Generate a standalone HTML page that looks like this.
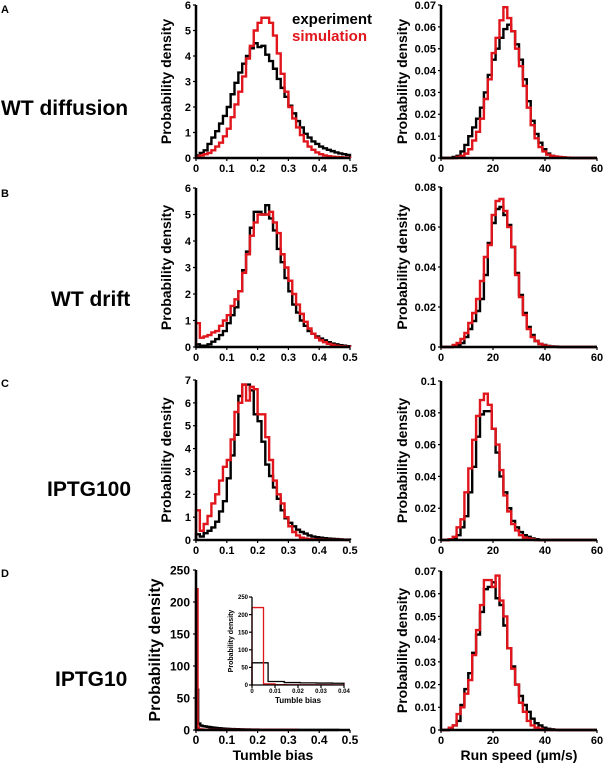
<!DOCTYPE html>
<html><head><meta charset="utf-8"><style>
html,body{margin:0;padding:0;background:#fff}
svg{display:block;font-family:"Liberation Sans",Arial,sans-serif}
</style></head><body>
<svg id="fig" width="605" height="764" viewBox="0 0 605 764" xmlns="http://www.w3.org/2000/svg">
<g font-weight="bold" font-size="11">
<text x="1" y="13">A</text>
<text x="1" y="197">B</text>
<text x="1" y="387">C</text>
<text x="1" y="577">D</text>
</g>
<g font-weight="bold" font-size="21">
<text x="1" y="115">WT diffusion</text>
<text x="51" y="306">WT drift</text>
<text x="47" y="496">IPTG100</text>
<text x="55" y="686">IPTG10</text>
</g>
<g font-weight="bold" font-size="15">
<text x="292" y="24" fill="#000">experiment</text>
<text x="292" y="41" fill="#e0161c">simulation</text>
</g>
<text x="273" y="760" text-anchor="middle" font-size="14" font-weight="bold">Tumble bias</text>
<text x="519" y="760" text-anchor="middle" font-size="14" font-weight="bold">Run speed (µm/s)</text>
</svg>
<script>
// ---- data (40 bins; tumble bias bin width 0.0125, run speed bin width 1.5) ----
const biasTicks = ["0","0.1","0.2","0.3","0.4","0.5"];
const speedTicks = ["0","20","40","60"];
const aBiasExp = [0.1,0.2,0.3,0.55,0.8,1.05,1.35,1.65,2.0,2.5,2.95,3.35,3.7,4.0,4.3,4.5,4.35,4.4,4.05,3.8,3.5,3.1,2.75,2.4,2.05,1.75,1.45,1.2,0.95,0.8,0.65,0.55,0.45,0.38,0.32,0.27,0.22,0.18,0.15,0.12];
const aBiasSim = [0.05,0.1,0.15,0.2,0.3,0.45,0.6,0.85,1.15,1.6,2.1,2.6,3.2,3.9,4.4,5.0,5.3,5.5,5.5,5.3,4.8,4.1,3.3,2.6,2.0,1.55,1.2,0.9,0.65,0.45,0.32,0.22,0.15,0.1,0.07,0.05,0.04,0.03,0.02,0.01];
const bBiasExp = [0.1,0.05,0.05,0.1,0.2,0.3,0.45,0.6,0.9,1.2,1.5,2.1,2.9,3.6,4.5,5.1,5.1,5.0,5.35,4.85,4.4,3.7,3.2,2.6,2.1,1.6,1.3,1.0,0.8,0.6,0.5,0.4,0.32,0.25,0.18,0.13,0.1,0.07,0.05,0.03];
const bBiasSim = [0.9,0.35,0.4,0.45,0.55,0.6,0.8,1.0,1.2,1.55,1.8,2.1,2.8,3.5,4.2,4.7,5.0,5.0,5.0,5.1,4.7,4.3,3.5,3.0,2.5,2.0,1.6,1.25,0.95,0.7,0.5,0.35,0.25,0.18,0.12,0.08,0.05,0.03,0.02,0.01];
const cBiasExp = [0.25,0.15,0.3,0.4,0.55,0.8,1.25,1.7,2.7,3.7,4.6,6.3,6.8,6.8,6.55,5.5,5.2,4.3,3.3,2.8,2.3,1.8,1.3,0.95,0.75,0.6,0.45,0.35,0.28,0.2,0.15,0.12,0.1,0.08,0.06,0.05,0.04,0.03,0.02,0.02];
const cBiasSim = [1.3,0.4,0.7,1.05,1.6,2.0,2.6,3.2,3.5,4.4,5.6,6.0,6.8,6.1,6.7,6.6,5.5,5.5,4.5,3.5,2.6,2.0,1.6,1.0,0.6,0.35,0.2,0.1,0.06,0.04,0.03,0.02,0.02,0.01,0.01,0.01,0.01,0.01,0.01,0];
// IPTG10 tumble bias: experiment bin width 0.007, simulation bin width 0.005
const dBiasExp = [63,10,7,6,5.5,5,4.5,4,3.6,3.2,2.9,2.6,2.3,2.1,1.9,1.7,1.5,1.4,1.3,1.2,1.1,1,0.9,0.85,0.8,0.75,0.7,0.65,0.6,0.55,0.5,0.5,0.45,0.45,0.4,0.4,0.35,0.35,0.3,0.3,0.3,0.25,0.25,0.2,0.2,0.2,0.2,0.15,0.15,0.15,0.1,0.1,0.1,0.1,0.1,0.1,0.05,0.05,0.05,0.05,0.05,0.05,0.05,0.05,0.05,0.05];
const dBiasSim = [220,3,1,0.8,0.6,0.5,0.5,0.4,0.4,0.4,0.3,0.3,0.3,0.3,0.3,0.3,0.2,0.2,0.2,0.2,0.2,0.2,0.2,0.2,0.2,0.2,0.2,0.2,0.2,0.2,0.2,0.2,0.2,0.2,0.2,0.2,0.2,0.2,0.2,0.2,0.2,0.2,0.2,0.2,0.2,0.2,0.2,0.2,0.2,0.2,0.2,0.2,0.2,0.2,0.2,0.2,0.2,0.2,0.2,0.2,0.2,0.2,0.2,0.2,0.2,0.2];
const aSpeedExp = [0,0,0,0.0005,0.001,0.003,0.006,0.01,0.014,0.018,0.023,0.03,0.038,0.045,0.05,0.055,0.059,0.061,0.058,0.052,0.045,0.036,0.026,0.017,0.011,0.007,0.004,0.002,0.001,0.0005,0.0003,0.0002,0.0001,0,0,0,0,0,0,0];
const aSpeedSim = [0,0,0,0,0.0005,0.001,0.002,0.004,0.008,0.012,0.018,0.027,0.036,0.048,0.055,0.063,0.069,0.064,0.058,0.05,0.042,0.033,0.023,0.015,0.009,0.005,0.003,0.0015,0.001,0.0007,0.0005,0.0003,0.0002,0.0001,0,0,0,0,0,0];
const bSpeedExp = [0,0,0,0.0005,0.001,0.002,0.005,0.009,0.013,0.018,0.024,0.036,0.052,0.062,0.069,0.07,0.066,0.061,0.05,0.037,0.026,0.017,0.01,0.006,0.003,0.0015,0.001,0.0005,0.0003,0.0002,0,0,0,0,0,0,0,0,0,0];
const bSpeedSim = [0,0,0,0.001,0.002,0.004,0.007,0.012,0.017,0.024,0.033,0.045,0.051,0.066,0.073,0.074,0.068,0.06,0.05,0.036,0.025,0.016,0.009,0.005,0.003,0.0015,0.0008,0.0004,0.0002,0.0001,0,0,0,0,0,0,0,0,0,0];
const cSpeedExp = [0,0,0.0005,0.001,0.003,0.008,0.015,0.03,0.046,0.065,0.079,0.081,0.081,0.07,0.055,0.04,0.03,0.02,0.012,0.008,0.005,0.003,0.002,0.001,0.0005,0,0,0,0,0,0,0,0,0,0,0,0,0,0,0];
const cSpeedSim = [0,0,0.0005,0.002,0.008,0.013,0.03,0.045,0.063,0.078,0.088,0.092,0.085,0.07,0.06,0.044,0.028,0.018,0.01,0.006,0.003,0.0015,0.001,0.0005,0,0,0,0,0,0,0,0,0,0,0,0,0,0,0,0];
const dSpeedExp = [0,0,0.0005,0.002,0.004,0.011,0.018,0.025,0.034,0.042,0.052,0.062,0.063,0.065,0.058,0.055,0.046,0.036,0.028,0.02,0.015,0.011,0.008,0.005,0.003,0.002,0.001,0.0005,0.0003,0.0001,0,0,0,0,0,0,0,0,0,0];
const dSpeedSim = [0,0,0.001,0.002,0.007,0.01,0.016,0.022,0.033,0.044,0.055,0.066,0.066,0.063,0.068,0.057,0.05,0.036,0.027,0.02,0.012,0.008,0.004,0.002,0.001,0.0005,0,0,0,0,0,0,0,0,0,0,0,0,0,0];
const insetTicksY = ["0","50","100","150","200","250"];
const insetTicksX = ["0","0.01","0.02","0.03","0.04"];

const NS = "http://www.w3.org/2000/svg";
const svg = document.getElementById("fig");
function mk(tag, attrs, parent){ const e=document.createElementNS(NS,tag); for(const k in attrs) e.setAttribute(k,attrs[k]); (parent||svg).appendChild(e); return e; }

function panel(name, x0, x1, yTop, yBot, xMax, yMax, yTicks, xTicks, series, opts){
  opts = opts||{};
  const g = mk("g",{});
  
  
  const sx = v => x0 + (v/xMax)*(x1-x0);
  const sy = v => yBot - (Math.min(v,yMax)/yMax)*(yBot-yTop);
  const fs = opts.fs||11;
  // series
  series.forEach(s=>{
    let d = "M"+sx(0)+","+sy(0);
    s.vals.forEach((v,i)=>{
      const a=i*s.w, b=Math.min((i+1)*s.w, xMax);
      if(a>=xMax) return;
      d += " L"+sx(a).toFixed(2)+","+sy(v).toFixed(2)+" L"+sx(b).toFixed(2)+","+sy(v).toFixed(2);
    });
    const endX = Math.min(s.vals.length*s.w, xMax);
    d += " L"+sx(endX).toFixed(2)+","+sy(0);
    const p = mk("path",{d:d, fill:"none", stroke:s.color, "stroke-width":opts.sw||2.4, "stroke-linejoin":"miter"}, g);
    
    
  });
  // axes
  const ax = mk("path",{d:"M"+x0+","+yTop+" L"+x0+","+yBot+" L"+x1+","+yBot, fill:"none", stroke:"#000", "stroke-width":opts.aw||2.5}, g);
  
  
  const n = yTicks.length-1;
  yTicks.forEach((t,i)=>{
    const y = yBot - i*(yBot-yTop)/n;
    mk("line",{x1:x0-3,x2:x0,y1:y,y2:y,stroke:"#000","stroke-width":1.2},g);
    const tx = mk("text",{x:x0-(opts.tg||5),y:y+fs*0.36,"text-anchor":"end","font-size":fs,"font-weight":"bold"},g);
    tx.textContent=t;
    
    
  });
  const m = xTicks.length-1;
  xTicks.forEach((t,i)=>{
    const x = x0 + i*(x1-x0)/m;
    mk("line",{x1:x,x2:x,y1:yBot,y2:yBot+3,stroke:"#000","stroke-width":1.2},g);
    const tx = mk("text",{x:x,y:yBot+(opts.xg||14),"text-anchor":"middle","font-size":fs,"font-weight":"bold"},g);
    tx.textContent=t;
    
    
  });
  const lx = opts.lx || (x0-30);
  const ly = mk("text",{x:0,y:0,transform:"translate("+lx+","+((yTop+yBot)/2)+") rotate(-90)","text-anchor":"middle","font-size":opts.lfs||14,"font-weight":"bold"},g);
  ly.textContent="Probability density";
  
  
  return g;
}
const RED="#e0161c", BLK="#000";
const LX0=196, LX1=350, RX0=441, RX1=597;
panel("panel-a-tumble-bias",LX0,LX1,5,158,0.5,6,["0","1","2","3","4","5","6"],biasTicks,
  [{vals:aBiasExp,w:0.0125,color:BLK,name:"a-bias-experiment"},{vals:aBiasSim,w:0.0125,color:RED,name:"a-bias-simulation"}],{lx:171});
panel("panel-a-run-speed",RX0,RX1,5,158,60,0.07,["0","0.01","0.02","0.03","0.04","0.05","0.06","0.07"],speedTicks,
  [{vals:aSpeedExp,w:1.5,color:BLK,name:"a-speed-experiment"},{vals:aSpeedSim,w:1.5,color:RED,name:"a-speed-simulation"}],{lx:407});
panel("panel-b-tumble-bias",LX0,LX1,188,347,0.5,6,["0","1","2","3","4","5","6"],biasTicks,
  [{vals:bBiasExp,w:0.0125,color:BLK,name:"b-bias-experiment"},{vals:bBiasSim,w:0.0125,color:RED,name:"b-bias-simulation"}],{lx:171});
panel("panel-b-run-speed",RX0,RX1,187,347,60,0.08,["0","0.02","0.04","0.06","0.08"],speedTicks,
  [{vals:bSpeedExp,w:1.5,color:BLK,name:"b-speed-experiment"},{vals:bSpeedSim,w:1.5,color:RED,name:"b-speed-simulation"}],{lx:407});
panel("panel-c-tumble-bias",LX0,LX1,380,540,0.5,7,["0","1","2","3","4","5","6","7"],biasTicks,
  [{vals:cBiasExp,w:0.0125,color:BLK,name:"c-bias-experiment"},{vals:cBiasSim,w:0.0125,color:RED,name:"c-bias-simulation"}],{lx:171});
panel("panel-c-run-speed",RX0,RX1,381,540,60,0.1,["0","0.02","0.04","0.06","0.08","0.1"],speedTicks,
  [{vals:cSpeedExp,w:1.5,color:BLK,name:"c-speed-experiment"},{vals:cSpeedSim,w:1.5,color:RED,name:"c-speed-simulation"}],{lx:407});
panel("panel-d-tumble-bias",LX0,LX1,570,730,0.5,250,["0","50","100","150","200","250"],biasTicks,
  [{vals:dBiasExp,w:0.007,color:BLK,name:"d-bias-experiment"},{vals:dBiasSim,w:0.005,color:RED,name:"d-bias-simulation"}],{lx:160,fs:12,lfs:16,tg:6});
panel("panel-d-run-speed",RX0,RX1,571,730,60,0.07,["0","0.01","0.02","0.03","0.04","0.05","0.06","0.07"],speedTicks,
  [{vals:dSpeedExp,w:1.5,color:BLK,name:"d-speed-experiment"},{vals:dSpeedSim,w:1.5,color:RED,name:"d-speed-simulation"}],{lx:407});
// inset
panel("panel-d-inset",252,344,597,685,0.04,250,insetTicksY,insetTicksX,
  [{vals:dBiasExp,w:0.007,color:BLK,name:"inset-bias-experiment"},{vals:dBiasSim,w:0.005,color:RED,name:"inset-bias-simulation"}],
  {fs:6,lfs:7,lx:233,sw:1.3,aw:1.3,tg:4,xg:8});
const it = mk("text",{x:298,y:703,"text-anchor":"middle","font-size":8,"font-weight":"bold"});
it.textContent="Tumble bias";


</script>
</body></html>
